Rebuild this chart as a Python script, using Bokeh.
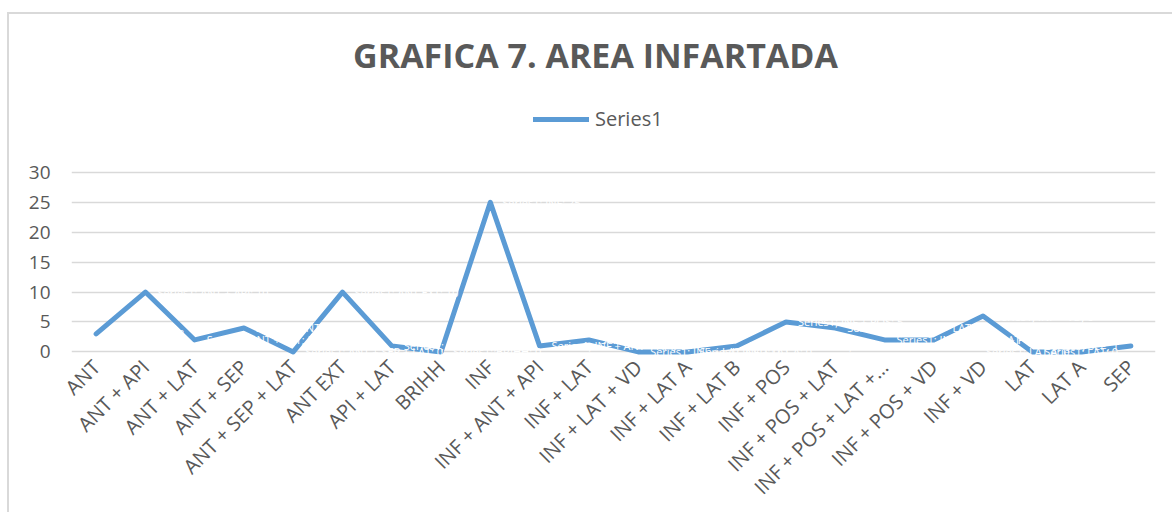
from bokeh.plotting import figure
from bokeh.models import Range1d, Legend, LegendItem, Label, ColumnDataSource, FactorRange
from bokeh.embed import file_html
from bokeh.resources import INLINE
from bokeh.core.properties import value

categories = ["ANT", "ANT + API", "ANT + LAT", "ANT + SEP", "ANT + SEP + LAT", "ANT EXT",
              "API + LAT", "BRIHH", "INF", "INF + ANT + API", "INF + LAT", "INF + LAT + VD",
              "INF + LAT A", "INF + LAT B", "INF + POS", "INF + POS + LAT", "INF + POS + LAT +…",
              "INF + POS + VD", "INF + VD", "LAT", "LAT A", "SEP"]
values = [3, 10, 2, 4, 0, 10, 1, 0, 25, 1, 2, 0, 0, 1, 5, 4, 2, 2, 6, 0, 0, 1]
series_name = "Series1"
title_text = "GRAFICA 7. AREA INFARTADA"
y_ticks = [0, 5, 10, 15, 20, 25, 30]

FONT = "Open Sans"
GRAY = "#595959"
BLUE = "#5B9BD5"
BORDER = "#d9d9d9"

n = len(categories)
labels = ["%s; %s; %d" % (series_name, c, v) for c, v in zip(categories, values)]
aligns = ["left" if i < n - 2 else "right" for i in range(n)]
offs = [12 if i < n - 2 else -12 for i in range(n)]
src = ColumnDataSource(dict(x=categories, y=values, lab=labels, al=aligns, xo=offs))

W, H = 1172, 512
ML, MR, MB = 71, 17, 156
px_per_unit = 6.0
y0 = -0.6
y1 = y0 + (H - MB) / px_per_unit

p = figure(x_range=FactorRange(*categories), y_range=Range1d(y0, y1),
           width=W, height=H, output_backend="svg", toolbar_location=None,
           min_border_left=ML, min_border_right=MR, min_border_top=0, min_border_bottom=MB)
p.outline_line_color = None
p.background_fill_alpha = 0
p.border_fill_alpha = 0
p.styles = {
    "background": ("linear-gradient(%s,%s) left 7px top 12px / 2px 600px no-repeat, "
                   "linear-gradient(%s,%s) left 7px top 12px / 1200px 2px no-repeat, white")
                  % (BORDER, BORDER, BORDER, BORDER),
}

line = p.line("x", "y", source=src, line_color=BLUE, line_width=5,
              line_join="round", line_cap="round")

p.text("x", "y", text="lab", source=src, x_offset="xo", text_color="white",
       text_font=value(FONT), text_font_size="11px", text_align="al",
       text_baseline="middle")

p.xgrid.grid_line_color = None
p.ygrid.grid_line_color = BORDER
p.ygrid.grid_line_width = 1.4
p.yaxis.ticker = y_ticks
p.yaxis.axis_line_color = None
p.yaxis.major_tick_line_color = None
p.yaxis.minor_tick_line_color = None
p.yaxis.major_label_standoff = 15
p.yaxis.major_label_text_font = FONT
p.yaxis.major_label_text_font_size = "19px"
p.yaxis.major_label_text_color = GRAY

p.xaxis.axis_line_color = None
p.xaxis.major_tick_line_color = None
p.xaxis.minor_tick_line_color = None
p.xaxis.major_label_orientation = 0.785398
p.xaxis.major_label_standoff = 2
p.xaxis.major_label_text_font = FONT
p.xaxis.major_label_text_font_size = "20px"
p.xaxis.major_label_text_color = GRAY

frame_h = H - MB
p.add_layout(Label(x=595 - ML, y=frame_h - 55, x_units="screen", y_units="screen",
                   text=title_text, text_font=FONT, text_font_size="34px",
                   text_font_style="bold", text_color=GRAY,
                   text_align="center", text_baseline="middle"))

legend = Legend(items=[LegendItem(label=series_name, renderers=[line])],
                location=(535 - ML - 2, frame_h - 133), glyph_width=56, glyph_height=20,
                label_standoff=6, padding=0, margin=0, border_line_color=None,
                background_fill_alpha=0, label_text_font=FONT,
                label_text_font_size="20px", label_text_color=GRAY)
p.add_layout(legend)

open("out.html", "w").write(file_html(p, INLINE))
